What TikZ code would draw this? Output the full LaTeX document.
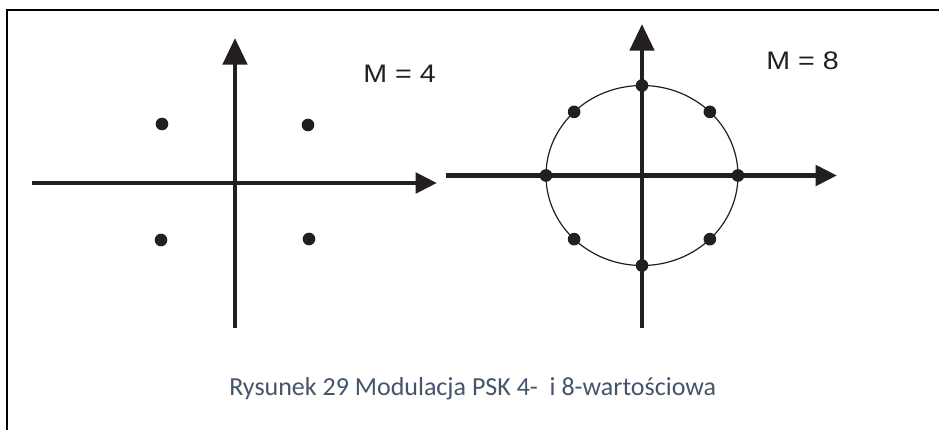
\documentclass[tikz,border=0pt]{standalone}
\usepackage{fontspec}
\setmainfont{Liberation Sans}
\newfontfamily\capfont{Carlito}
\usetikzlibrary{arrows.meta, calc}
\definecolor{axiscol}{RGB}{35,31,32}
\definecolor{captioncol}{RGB}{68,84,106}
\tikzset{
  axis/.style={line width=3.7pt, draw=axiscol},
  haxis/.style={axis, -{Triangle[length=16pt, width=15pt]}},
  vaxis/.style={axis, -{Triangle[length=20pt, width=18pt]}},
  symbol/.style={circle, fill=axiscol, inner sep=0pt, minimum size=9.5pt},
  mlabel/.style={anchor=base west, inner sep=0pt, xscale=1.13, text=axiscol,
    font=\fontsize{19}{21}\selectfont},
}
\begin{document}
\begin{tikzpicture}[x=0.75pt, y=-0.75pt, line cap=butt, line join=miter]
  \useasboundingbox (0,0) rectangle (939,430);

  % Frame
  \draw[line width=1.5pt] (939,10) -- (7,10) -- (7,430);

  % QPSK axes
  \coordinate (L-west) at (32,183);
  \coordinate (L-east) at (437,183);
  \coordinate (L-south) at (235,328);
  \coordinate (L-north) at (235,38);
  \draw[haxis] (L-west) -- (L-east);
  \draw[vaxis] (L-south) -- (L-north);

  % QPSK symbols
  \node[symbol] (q1) at (308,125) {};
  \node[symbol] (q2) at (162,124) {};
  \node[symbol] (q3) at (161,240) {};
  \node[symbol] (q4) at (309,239) {};

  % 8-PSK axes
  \coordinate (R-west) at (446,175.5);
  \coordinate (R-east) at (837,175.5);
  \coordinate (R-south) at (642,328);
  \coordinate (R-north) at (642,24);
  \coordinate (R-center) at (642,175.5);
  \draw[haxis] (R-west) -- (R-east);
  \draw[vaxis] (R-south) -- (R-north);

  % 8-PSK circle and symbols
  \draw[line width=0.9pt, axiscol] (R-center) ellipse [x radius=96, y radius=90];
  \foreach \k in {0,...,7}
    \node[symbol] (p\k) at ($(R-center)+(\k*45:96 and 90)$) {};

  % Labels
  \node[mlabel] (m4) at (363,82) {M = 4};
  \node[mlabel] (m8) at (766,69) {M = 8};
  \node[anchor=base west, inner sep=0pt, text=captioncol,
        font=\capfont\fontsize{19.5}{24}\selectfont] (caption) at (229,395)
    {Rysunek 29 Modulacja PSK 4-\ \ i 8-wartościowa};
\end{tikzpicture}
\end{document}
